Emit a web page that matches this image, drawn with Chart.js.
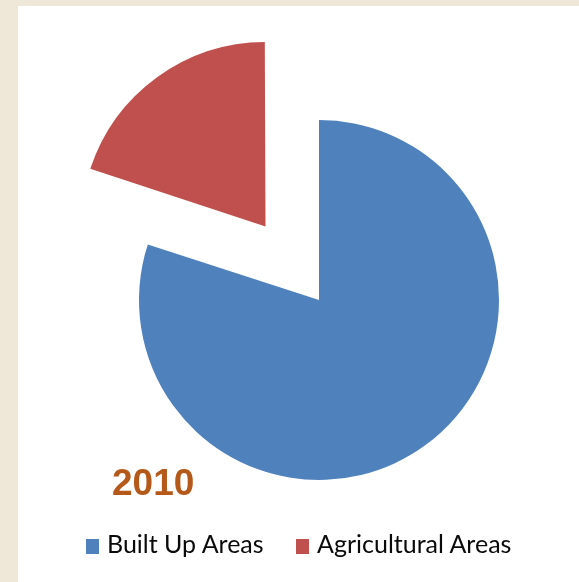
<!DOCTYPE html>
<html>
<head>
<meta charset="utf-8">
<script src="https://cdn.jsdelivr.net/npm/chart.js@4/dist/chart.umd.min.js"></script>
<style>
  html, body { margin: 0; padding: 0; }
  body { width: 579px; height: 582px; background: #efe7d8; position: relative; overflow: hidden; }
  .panel { position: absolute; left: 18px; top: 6px; right: 0; bottom: 0; background: #fff; }
  #pieChart { position: absolute; left: 0; top: 0; }
  .year { position: absolute; left: 112px; top: 462px; font: bold 37px "Liberation Sans", Arial, sans-serif; color: #b5591b; }
  .legend-item { position: absolute; top: 528px; font: 25px Lato, sans-serif; color: #0a0a0a; white-space: nowrap; }
  .legend-item span.box { display: inline-block; width: 13px; height: 15px; margin-right: 8px; vertical-align: -1px; }
</style>
</head>
<body>
<div class="panel"></div>
<canvas id="pieChart" width="579" height="582"></canvas>
<div class="year" id="yearLabel"></div>
<div id="legend"></div>

<script>
// data
const yearTitle = '2010';
const landLabels = ['Built Up Areas', 'Agricultural Areas'];
const landShares = [80, 20];
const sliceColors = ['#4f81bd', '#c0504d'];
const sliceOffsets = [0, 364]; // chart.js draws offset/4 -> ~91px pull-out

document.addEventListener('DOMContentLoaded', function() {
    createLandUseChart(landLabels, landShares);
    buildLegend(landLabels);
    document.getElementById('yearLabel').textContent = yearTitle;
});

function createLandUseChart(labels, values) {
    const ctx = document.getElementById('pieChart');
    if (!ctx) return;

    new Chart(ctx, {
        type: 'pie',
        data: {
            labels: labels,
            datasets: [{
                data: values,
                backgroundColor: sliceColors,
                borderWidth: 0,
                offset: sliceOffsets
            }]
        },
        options: {
            responsive: false,
            animation: false,
            radius: 180,
            layout: {
                padding: { left: 100, right: 41, top: 100, bottom: 82 }
            },
            plugins: {
                legend: { display: false },
                tooltip: { enabled: false }
            }
        }
    });
}

// legend drawn in html so it can sit off the pie's centre line
function buildLegend(labels) {
    const holder = document.getElementById('legend');
    const lefts = [86, 296];
    labels.forEach(function(name, i) {
        const item = document.createElement('div');
        item.className = 'legend-item';
        item.style.left = lefts[i] + 'px';
        const box = document.createElement('span');
        box.className = 'box';
        box.style.background = sliceColors[i];
        item.appendChild(box);
        item.appendChild(document.createTextNode(name));
        holder.appendChild(item);
    });
}
</script>
</body>
</html>
